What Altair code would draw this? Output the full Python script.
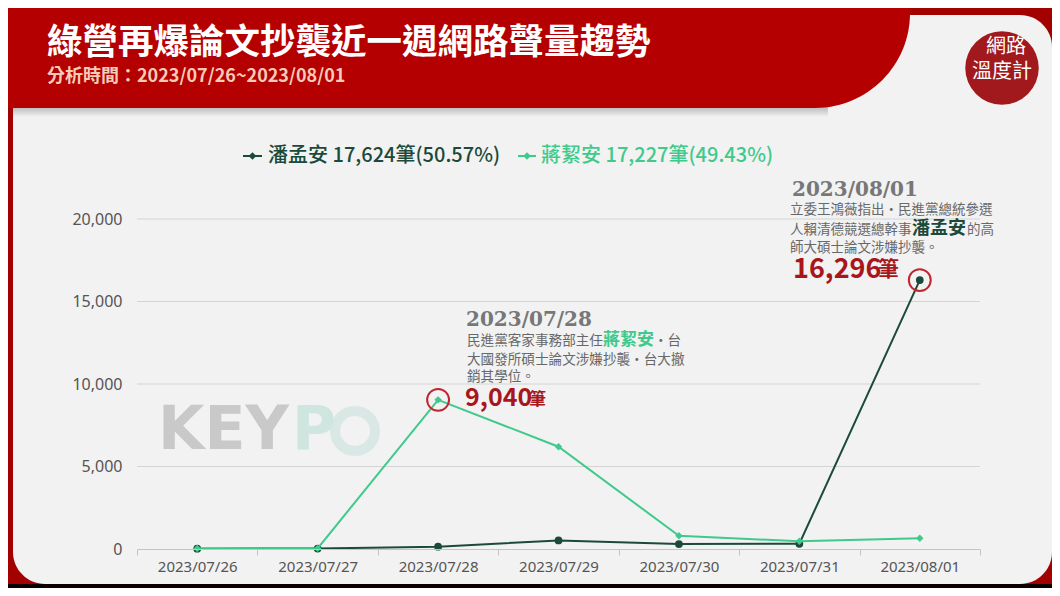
import altair as alt
import pandas as pd

# ---------------- data ----------------
dates = ["2023/07/26", "2023/07/27", "2023/07/28", "2023/07/29",
         "2023/07/30", "2023/07/31", "2023/08/01"]
pan_values = [20, 30, 140, 520, 300, 318, 16296]        # 潘孟安
jiang_values = [30, 37, 9040, 6200, 800, 470, 650]      # 蔣絜安
series_names = ["潘孟安", "蔣絜安"]
y_ticks = [0, 5000, 10000, 15000, 20000]
highlight_dates = ["2023/07/28", "2023/08/01"]
highlight_values = [9040, 16296]

DARK = "#1b4a3a"
LIGHT = "#3fca8c"
RED_TXT = "#a8161c"
GRAY_TXT = "#686868"
CJK = "Noto Sans CJK TC"

pan_df = pd.DataFrame({"date": dates, "value": pan_values})
jiang_df = pd.DataFrame({"date": dates, "value": jiang_values})
hl_df = pd.DataFrame({"date": highlight_dates, "value": highlight_values})
grid_df = pd.DataFrame({"value": [t for t in y_ticks if t > 0]})
one = pd.DataFrame({"k": [0]})

OX, OY = 137, 219  # page position of plot origin


def px(X):
    return X - OX


def py(Y):
    return Y - OY


x_scale = alt.Scale(type="band", domain=dates, paddingInner=0, paddingOuter=0)
y_scale = alt.Scale(domain=[0, 20000], nice=False, zero=True)

x_enc = alt.X("date:N", sort=dates, scale=x_scale,
              axis=alt.Axis(title=None, labelAngle=0, labelFontSize=15, labelColor="#555555",
                            labelFont="Noto Sans", domainColor="#c4c4c4", tickColor="#c4c4c4",
                            tickSize=6, tickBand="extent", labelPadding=4, grid=False, zindex=1))
y_enc = alt.Y("value:Q", scale=y_scale,
              axis=alt.Axis(title=None, values=y_ticks, format=",.0f", grid=False, domain=False,
                            ticks=False, labelPadding=15, labelFontSize=16, labelColor="#555555",
                            labelFont="Noto Sans", zindex=1))


def rect(X1, X2, Y1, Y2, color, **kw):
    return alt.Chart(one).mark_rect(color=color, **kw).encode(
        x=alt.value(px(X1)), x2=alt.value(px(X2)), y=alt.value(py(Y1)), y2=alt.value(py(Y2)))


def txt(X, Y, s, size, color, weight="normal", font=CJK, align="left", **kw):
    return alt.Chart(one).mark_text(text=s, fontSize=size, color=color, fontWeight=weight,
                                    font=font, align=align, baseline="middle", **kw).encode(
        x=alt.value(px(X)), y=alt.value(py(Y)))


layers = []
# card
layers.append(rect(13, 1052, 15, 584, "#f2f2f2", cornerRadius=32))
# banner shadow
shadow = alt.LinearGradient(gradient="linear", x1=0, x2=0, y1=0, y2=1,
                            stops=[alt.GradientStop(color="#b9b9b9", offset=0),
                                   alt.GradientStop(color="#f2f2f2", offset=1)])
layers.append(alt.Chart(one).mark_rect(color=shadow).encode(
    x=alt.value(px(13)), x2=alt.value(px(828)), y=alt.value(py(107)), y2=alt.value(py(117))))
# banner
layers.append(rect(-10, 910, -120, 108, "#b40000", cornerRadiusBottomRight=95))
# bottom strip
layers.append(rect(-10, 1080, 584, 620, "#0a0000"))

# gridlines
layers.append(alt.Chart(grid_df).mark_rule(color="#d4d4d4", strokeWidth=1).encode(y=y_enc))

# watermark
layers.append(txt(158, 431, "KEY", 60, "#c9c9c9", weight="bold", font="DejaVu Sans"))
layers.append(txt(292, 431, "P", 60, "#cfe5df", weight="bold", font="DejaVu Sans"))
layers.append(alt.Chart(one).mark_point(shape="circle", filled=False, size=1600,
                                        strokeWidth=10, color="#cfe5df").encode(
    x=alt.value(px(355)), y=alt.value(py(431))))

# data lines
base_pan = alt.Chart(pan_df).encode(x=x_enc, y=y_enc)
base_jiang = alt.Chart(jiang_df).encode(x=x_enc, y=y_enc)
layers.append(base_pan.mark_line(color=DARK, strokeWidth=2))
layers.append(base_pan.mark_point(shape="circle", filled=True, size=60, color=DARK, opacity=1))
layers.append(base_jiang.mark_line(color=LIGHT, strokeWidth=2))
layers.append(base_jiang.mark_point(shape="diamond", filled=True, size=55, color=LIGHT, opacity=1))
# highlight rings
layers.append(alt.Chart(hl_df).mark_point(shape="circle", filled=False, size=480,
                                          strokeWidth=2, color="#c0262c", opacity=1).encode(
    x=x_enc, y=y_enc))

# title
layers.append(txt(47, 43, "綠營再爆論文抄襲近一週網路聲量趨勢", 35.5, "#ffffff", weight="bold"))
layers.append(txt(47, 77, "分析時間：2023/07/26~2023/08/01", 18, "#f6cbb8", weight="bold"))

# logo
layers.append(alt.Chart(one).mark_point(shape="circle", filled=True, size=5400,
                                        color="#a2191d", opacity=1).encode(
    x=alt.value(px(1002)), y=alt.value(py(68))))
layers.append(txt(1006, 47, "網路", 20, "#ffffff", align="center"))
layers.append(txt(1002, 72, "溫度計", 20, "#ffffff", align="center"))

# legend
layers.append(alt.Chart(one).mark_rule(color=DARK, strokeWidth=2).encode(
    x=alt.value(px(243)), x2=alt.value(px(262)), y=alt.value(py(156))))
layers.append(alt.Chart(one).mark_point(shape="diamond", filled=True, size=60, color=DARK,
                                        opacity=1).encode(
    x=alt.value(px(252.5)), y=alt.value(py(156))))
layers.append(txt(268, 156, "潘孟安 17,624筆(50.57%)", 20, DARK, weight=500))
layers.append(alt.Chart(one).mark_rule(color=LIGHT, strokeWidth=2).encode(
    x=alt.value(px(518)), x2=alt.value(px(536)), y=alt.value(py(156))))
layers.append(alt.Chart(one).mark_point(shape="diamond", filled=True, size=60, color=LIGHT,
                                        opacity=1).encode(
    x=alt.value(px(527)), y=alt.value(py(156))))
layers.append(txt(541, 156, "蔣絜安 17,227筆(49.43%)", 20, LIGHT, weight=500))

# annotation 1 (07/28)
layers.append(txt(466, 320, "2023/07/28", 20, "#777777", weight="bold", font="DejaVu Serif"))
layers.append(txt(467, 341, "民進黨客家事務部主任", 13.6, GRAY_TXT))
layers.append(txt(603, 340, "蔣絜安", 17, LIGHT, weight="bold"))
layers.append(txt(654, 341, "・台", 13.6, GRAY_TXT))
layers.append(txt(467, 360, "大國發所碩士論文涉嫌抄襲・台大撤", 13.6, GRAY_TXT))
layers.append(txt(467, 377, "銷其學位。", 13.6, GRAY_TXT))
layers.append(txt(465, 398, "9,040", 25, RED_TXT, weight="bold"))
layers.append(txt(529, 400, "筆", 17, RED_TXT, weight="bold"))

# annotation 2 (08/01)
layers.append(txt(792, 190, "2023/08/01", 20, "#777777", weight="bold", font="DejaVu Serif"))
layers.append(txt(790, 210, "立委王鴻薇指出・民進黨總統參選", 13.5, GRAY_TXT))
layers.append(txt(790, 230, "人賴清德競選總幹事", 13.5, GRAY_TXT))
layers.append(txt(912, 229, "潘孟安", 18, DARK, weight="bold"))
layers.append(txt(967, 230, "的高", 13.5, GRAY_TXT))
layers.append(txt(790, 248, "師大碩士論文涉嫌抄襲。", 13.5, GRAY_TXT))
layers.append(txt(793, 270, "16,296", 27, RED_TXT, weight="bold"))
layers.append(txt(878, 270, "筆", 21, RED_TXT, weight="bold"))

chart = alt.layer(*layers).properties(
    width=843, height=330,
    padding={"left": 129, "top": 211, "right": 72, "bottom": 39},
    autosize=alt.AutoSizeParams(type="none"),
    background="#a30000",
).configure_view(stroke=None)

chart.save("out.html", embed_options={"renderer": "svg", "actions": False})
